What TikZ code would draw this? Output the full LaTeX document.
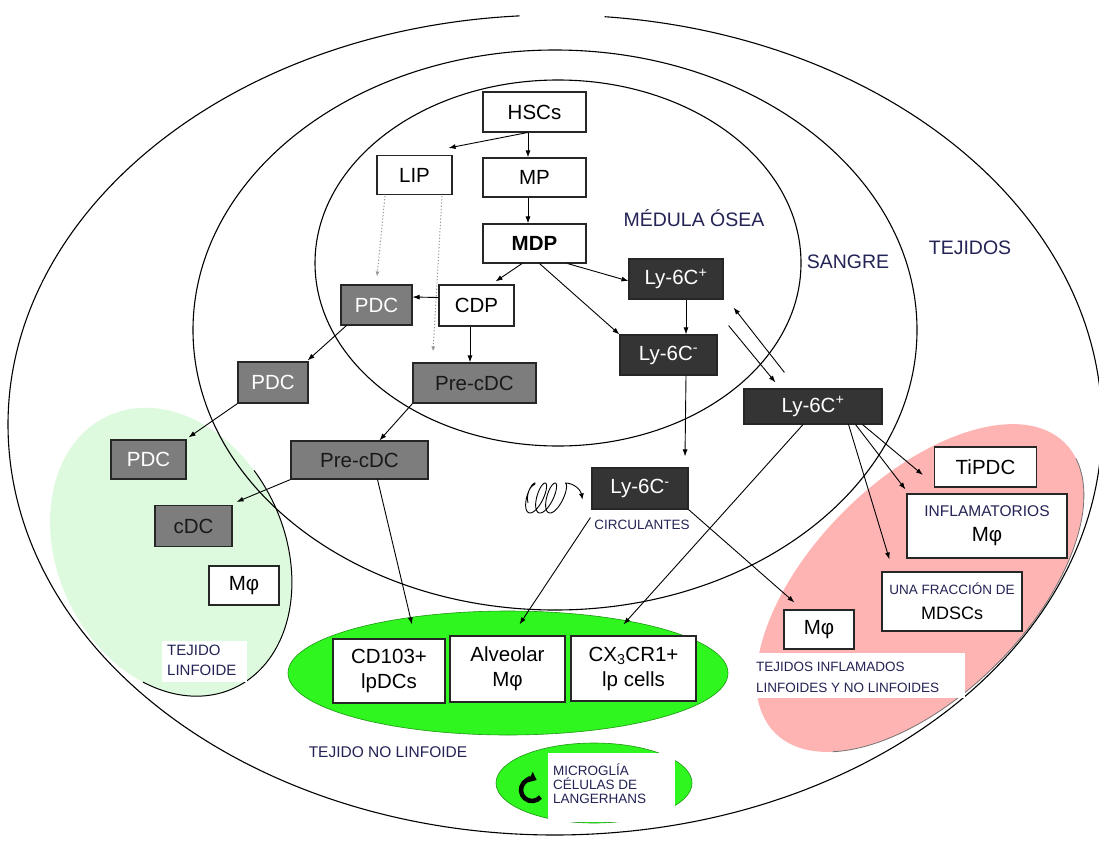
\documentclass[tikz,border=0pt]{standalone}
\usepackage{fontspec}
\setmainfont{Liberation Sans}
\usetikzlibrary{arrows.meta}

\definecolor{boxgray}{RGB}{125,125,125}
\definecolor{boxdark}{RGB}{52,52,52}
\definecolor{lightgreen}{RGB}{222,250,222}
\definecolor{pinkfill}{RGB}{255,180,180}
\definecolor{brightgreen}{RGB}{46,246,30}
\definecolor{greenedge}{RGB}{30,150,20}
\definecolor{labelink}{RGB}{35,35,85}
\definecolor{dotgray}{RGB}{150,150,150}

\tikzset{
  cell/.style={draw=black!85, line width=1.1pt, inner sep=0pt, align=center,
               font=\fontsize{20.5}{25}\selectfont},
  wbox/.style={cell, fill=white, text=black},
  gbox/.style={cell, fill=boxgray, text=white},
  gboxk/.style={cell, fill=boxgray, text=black!90},
  dbox/.style={cell, fill=boxdark, text=white},
  sz/.style 2 args={minimum width=#1pt, minimum height=#2pt},
  link/.style={line width=0.9pt, -{Latex[length=7pt,width=5pt]}},
  dotlink/.style={dotgray, line width=1pt, dash pattern=on 1.2pt off 2pt,
                  -{Latex[length=5pt,width=4pt]}},
  ring/.style={draw=black, line width=1.1pt},
  region/.style={font=\fontsize{19.5}{22}\selectfont, text=labelink, inner sep=0pt},
  note/.style={text=labelink, inner sep=0pt, align=left, anchor=west},
}

\begin{document}
\begin{tikzpicture}[x=1pt,y=-1pt]
\fill[white] (0,0) rectangle (1099,840);
\useasboundingbox (0,0) rectangle (1099,840);

% tissue areas
\begin{scope}[shift={(171,552)}, rotate=25]
  \fill[lightgreen] (0,0) ellipse [x radius=113.6pt, y radius=150pt];
\end{scope}
\begin{scope}[shift={(920,588)}, rotate=45]
  \fill[pinkfill] (0,0) ellipse [x radius=205pt, y radius=108pt];
  \draw[black!55, line width=0.8pt] (-10:205pt and 108pt)
    arc[start angle=-10, end angle=-150, x radius=205pt, y radius=108pt];
\end{scope}
\fill[brightgreen, draw=greenedge, line width=0.6pt] (508,673) ellipse [x radius=220pt, y radius=62pt];
\fill[brightgreen, draw=greenedge, line width=0.6pt] (594,783) ellipse [x radius=98pt, y radius=40pt];

% compartments: bone marrow, blood, tissues
\draw[ring] (558,263) ellipse [x radius=243pt, y radius=183pt];
\draw[ring] (555,330) ellipse [x radius=362pt, y radius=280pt];
\draw[ring] (555,425) ++(93.7:547pt and 410pt)
  arc[start angle=93.7, end angle=444.8, x radius=547pt, y radius=410pt];
\begin{scope}[shift={(171,552)}, rotate=25]
  \draw[ring, line width=1pt] (15:113.6pt and 150pt)
    arc[start angle=15, end angle=-135, x radius=113.6pt, y radius=150pt];
\end{scope}

% white label grounds
\fill[white] (162,641) rectangle (247,682);
\fill[white] (754,653) rectangle (965,698);
\fill[white] (548,753) rectangle (675,822);

% region labels
\node[region] (medula) at (694,218) {MÉDULA ÓSEA};
\node[region] (sangre) at (848,262) {SANGRE};
\node[region] (tejidos) at (970,248) {TEJIDOS};
\node[text=labelink, inner sep=0pt, font=\fontsize{13.5}{15}\selectfont] (circ) at (642,525) {CIRCULANTES};
\node[note, font=\fontsize{15}{20}\selectfont] (linf) at (167,660.5) {TEJIDO\\LINFOIDE};
\node[note, font=\fontsize{13.5}{21}\selectfont] (inflam) at (756,677.5) {TEJIDOS INFLAMADOS\\LINFOIDES Y NO LINFOIDES};
\node[note, font=\fontsize{13.5}{14}\selectfont] (micro) at (553,784) {MICROGLÍA\\CÉLULAS DE\\LANGERHANS};
\node[text=labelink, inner sep=0pt, font=\fontsize{15.5}{18}\selectfont] (nolinf) at (388,752) {TEJIDO NO LINFOIDE};

% cells
\node[wbox, sz={103}{40}] (hsc) at (534.5,112) {HSCs};
\node[wbox, sz={75}{39}] (lip) at (414.5,175) {LIP};
\node[wbox, sz={103}{39}] (mp) at (534.5,177.5) {MP};
\node[wbox, sz={103}{39}, font=\fontsize{20.5}{25}\selectfont\bfseries] (mdp) at (534.5,243.5) {MDP};
\node[wbox, sz={75}{41}] (cdp) at (476.5,305.5) {CDP};
\node[gbox, sz={71}{40}] (pdca) at (376.5,305) {PDC};
\node[gboxk, sz={123}{40}] (prea) at (474.5,383) {Pre-cDC};
\node[dbox, sz={94}{40}] (lya) at (676,279) {Ly-6C\textsuperscript{+}};
\node[dbox, sz={97}{40}] (lyb) at (668.5,355) {Ly-6C\textsuperscript{-}};
\node[dbox, sz={138}{35}] (lyc) at (813,406.5) {Ly-6C\textsuperscript{+}};
\node[dbox, sz={96}{41}] (lyd) at (640,488.5) {Ly-6C\textsuperscript{-}};
\node[gbox, sz={70}{41}] (pdcb) at (273,382.5) {PDC};
\node[gboxk, sz={137}{38}] (preb) at (359.5,460) {Pre-cDC};
\node[gbox, sz={75}{39}] (pdcc) at (148.5,459.5) {PDC};
\node[gboxk, sz={77}{41}] (cdc) at (193.5,526) {cDC};
\node[wbox, sz={70}{39}] (mpha) at (244,585.5) {Mφ};
\node[wbox, sz={112}{64}] (cd103) at (389,671) {CD103+\\lpDCs};
\node[wbox, sz={115}{66}] (alv) at (507.5,669) {Alveolar\\Mφ};
\node[wbox, sz={125}{65}] (cx3) at (633.5,668.5) {CX\textsubscript{3}CR1+\\lp cells};
\node[wbox, sz={102}{40}] (tipdc) at (985.5,467) {TiPDC};
\node[wbox, sz={160}{64}] (infl) at (987,526)
  {{\fontsize{15.5}{18}\selectfont\color{labelink}INFLAMATORIOS}\\Mφ};
\node[wbox, sz={140}{59}] (mdsc) at (952,601.5)
  {{\fontsize{13.5}{16}\selectfont\color{labelink}UNA FRACCIÓN DE}\\{\fontsize{18}{22}\selectfont MDSCs}};
\node[wbox, sz={70}{39}] (mphb) at (819,629.5) {Mφ};

% lineages
\draw[link] ([shift={(-7,0)}]hsc.south) -- ([shift={(-4,-7)}]lip.north east);
\draw[link] ([shift={(-6.5,0)}]hsc.south) -- ([shift={(-6.5,0)}]mp.north);
\draw[link] ([shift={(-6.5,0)}]mp.south) -- ([shift={(-6.5,0)}]mdp.north);
\draw[dotlink] ([shift={(-29.5,1)}]lip.south) -- ([shift={(0.5,-8)}]pdca.north);
\draw[dotlink] ([shift={(27.5,1)}]lip.south) -- ([shift={(-41.5,-11)}]prea.north);
\draw[link] ([shift={(-12.5,0)}]mdp.south) -- ([shift={(-19,-3)}]cdp.north east);
\draw[link] ([shift={(5,0)}]mdp.south) -- (lyb.north west);
\draw[link] ([shift={(-19,0)}]mdp.south east) -- ([shift={(0,2)}]lya.west);
\draw[link] ([shift={(0,-8)}]cdp.west) -- ([shift={(0,-8)}]pdca.east);
\draw[link] ([shift={(-6.5,0)}]cdp.south) -- ([shift={(-4.5,0)}]prea.north);
\draw[link] ([shift={(10,0)}]lya.south) -- ([shift={(17.5,0)}]lyb.north);
\draw[link] ([shift={(17.5,0)}]lyb.south) -- ([shift={(45,-11)}]lyd.north);
\draw[link] ([shift={(41,-16)}]lyc.north west) -- ([shift={(10,8)}]lya.south east);
\draw[link] ([shift={(5,26)}]lya.south east) -- ([shift={(32,-6)}]lyc.north west);
\draw[link] ([shift={(6,0)}]pdca.south west) -- ([shift={(-1,-1)}]pdcb.north east);
\draw[link] (pdcb.south west) -- ([shift={(2,-2)}]pdcc.north east);
\draw[link] (prea.south west) -- ([shift={(20,0)}]preb.north);
\draw[link] (preb.south west) -- ([shift={(4,-3)}]cdc.north east);
\draw[link] ([shift={(18,0)}]preb.south) -- ([shift={(23,-14)}]cd103.north);
\draw[link] ([shift={(-1,8)}]lyd.south west) -- ([shift={(12,-11)}]alv.north);
\draw[link] (lyd.south east) -- ([shift={(11,-7)}]mphb.north west);
\draw[link] ([shift={(-10,0)}]lyc.south) -- ([shift={(-10,-11)}]cx3.north);
\draw[link] ([shift={(-20,0)}]lyc.south east) -- ([shift={(-11,8)}]tipdc.west);
\draw[link] ([shift={(-27,0)}]lyc.south east) -- ([shift={(-1,-4)}]infl.north west);
\draw[link] ([shift={(-34,0)}]lyc.south east) -- ([shift={(8,-12)}]mdsc.north west);

% patrolling coil beside the circulating monocyte
\coordinate (coilstart) at (528,503);
\coordinate (coilend) at ([shift={(-9,11)}]lyd.west);
\draw[line width=0.9pt, -{Latex[length=6pt,width=5pt]}]
  (coilstart) .. controls (526,494) and (530,486) .. (535,484)
  -- plot[smooth, domain=0:1080, samples=120, variable=\t]
    ({535 + 10*\t/360 - 6*sin(\t) + 5*cos(\t) - 5}, {498 - 15*cos(\t)})
  to[out=0, in=100] (coilend);

% self-renewal arrow
\coordinate (selfc) at (532,790);
\draw[line width=4.5pt, -{Triangle[length=7pt,width=11pt]}] (selfc) ++(-40:11pt)
  arc[start angle=-40, end angle=-295, radius=11pt];
\end{tikzpicture}
\end{document}
